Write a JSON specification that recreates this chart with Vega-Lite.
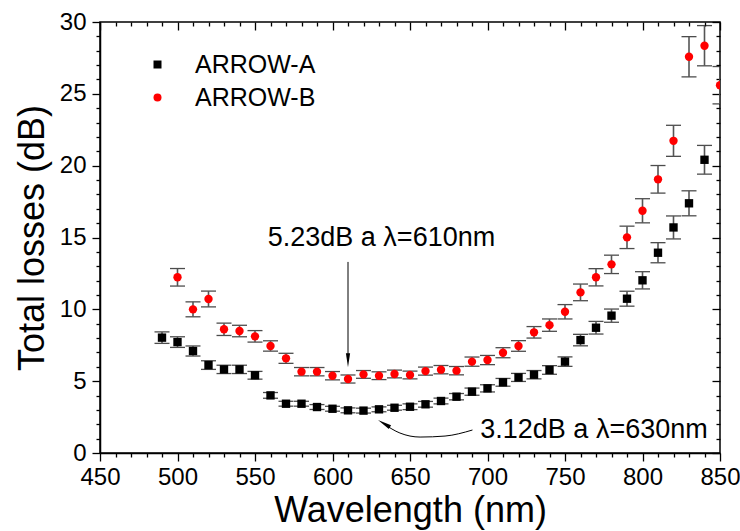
{
  "$schema": "https://vega.github.io/schema/vega-lite/v6.json",
  "width": 620,
  "height": 431,
  "autosize": "none",
  "padding": {"left": 100, "top": 22, "right": 20, "bottom": 78},
  "background": "white",
  "config": {
    "font": "Liberation Sans",
    "view": {"stroke": "black", "strokeWidth": 1.5},
    "axis": {"domainColor": "black", "tickColor": "black", "labelColor": "black", "titleColor": "black", "grid": false, "domainWidth": 1.5, "tickWidth": 1.3, "labelFont": "Liberation Sans", "titleFont": "Liberation Sans", "titleFontWeight": "normal"}
  },
  "datasets": {
    "losses": [
      {"series": "ARROW-A", "wl": 490, "loss": 8.03, "err": 0.4},
      {"series": "ARROW-A", "wl": 500, "loss": 7.72, "err": 0.37},
      {"series": "ARROW-A", "wl": 510, "loss": 7.1, "err": 0.35},
      {"series": "ARROW-A", "wl": 520, "loss": 6.12, "err": 0.3},
      {"series": "ARROW-A", "wl": 530, "loss": 5.82, "err": 0.29},
      {"series": "ARROW-A", "wl": 540, "loss": 5.82, "err": 0.29},
      {"series": "ARROW-A", "wl": 550, "loss": 5.41, "err": 0.27},
      {"series": "ARROW-A", "wl": 560, "loss": 4.01, "err": 0.2},
      {"series": "ARROW-A", "wl": 570, "loss": 3.43, "err": 0.17},
      {"series": "ARROW-A", "wl": 580, "loss": 3.43, "err": 0.17},
      {"series": "ARROW-A", "wl": 590, "loss": 3.2, "err": 0.17},
      {"series": "ARROW-A", "wl": 600, "loss": 3.08, "err": 0.17},
      {"series": "ARROW-A", "wl": 610, "loss": 2.97, "err": 0.17},
      {"series": "ARROW-A", "wl": 620, "loss": 2.95, "err": 0.17},
      {"series": "ARROW-A", "wl": 630, "loss": 3.04, "err": 0.17},
      {"series": "ARROW-A", "wl": 640, "loss": 3.15, "err": 0.17},
      {"series": "ARROW-A", "wl": 650, "loss": 3.22, "err": 0.2},
      {"series": "ARROW-A", "wl": 660, "loss": 3.39, "err": 0.2},
      {"series": "ARROW-A", "wl": 670, "loss": 3.62, "err": 0.2},
      {"series": "ARROW-A", "wl": 680, "loss": 3.92, "err": 0.22},
      {"series": "ARROW-A", "wl": 690, "loss": 4.27, "err": 0.25},
      {"series": "ARROW-A", "wl": 700, "loss": 4.5, "err": 0.25},
      {"series": "ARROW-A", "wl": 710, "loss": 4.92, "err": 0.27},
      {"series": "ARROW-A", "wl": 720, "loss": 5.26, "err": 0.28},
      {"series": "ARROW-A", "wl": 730, "loss": 5.45, "err": 0.29},
      {"series": "ARROW-A", "wl": 740, "loss": 5.78, "err": 0.3},
      {"series": "ARROW-A", "wl": 750, "loss": 6.36, "err": 0.33},
      {"series": "ARROW-A", "wl": 760, "loss": 7.86, "err": 0.4},
      {"series": "ARROW-A", "wl": 770, "loss": 8.72, "err": 0.44},
      {"series": "ARROW-A", "wl": 780, "loss": 9.56, "err": 0.46},
      {"series": "ARROW-A", "wl": 790, "loss": 10.74, "err": 0.52},
      {"series": "ARROW-A", "wl": 800, "loss": 12.02, "err": 0.6},
      {"series": "ARROW-A", "wl": 810, "loss": 13.94, "err": 0.7},
      {"series": "ARROW-A", "wl": 820, "loss": 15.7, "err": 0.8},
      {"series": "ARROW-A", "wl": 830, "loss": 17.38, "err": 0.87},
      {"series": "ARROW-A", "wl": 840, "loss": 20.41, "err": 1.0},
      {"series": "ARROW-B", "wl": 500, "loss": 12.23, "err": 0.61},
      {"series": "ARROW-B", "wl": 510, "loss": 10.0, "err": 0.52},
      {"series": "ARROW-B", "wl": 520, "loss": 10.72, "err": 0.55},
      {"series": "ARROW-B", "wl": 530, "loss": 8.61, "err": 0.43},
      {"series": "ARROW-B", "wl": 540, "loss": 8.49, "err": 0.4},
      {"series": "ARROW-B", "wl": 550, "loss": 8.12, "err": 0.4},
      {"series": "ARROW-B", "wl": 560, "loss": 7.45, "err": 0.36},
      {"series": "ARROW-B", "wl": 570, "loss": 6.59, "err": 0.35},
      {"series": "ARROW-B", "wl": 580, "loss": 5.66, "err": 0.29},
      {"series": "ARROW-B", "wl": 590, "loss": 5.66, "err": 0.29},
      {"series": "ARROW-B", "wl": 600, "loss": 5.38, "err": 0.29},
      {"series": "ARROW-B", "wl": 610, "loss": 5.15, "err": 0.28},
      {"series": "ARROW-B", "wl": 620, "loss": 5.47, "err": 0.27},
      {"series": "ARROW-B", "wl": 630, "loss": 5.38, "err": 0.27},
      {"series": "ARROW-B", "wl": 640, "loss": 5.5, "err": 0.27},
      {"series": "ARROW-B", "wl": 650, "loss": 5.43, "err": 0.27},
      {"series": "ARROW-B", "wl": 660, "loss": 5.7, "err": 0.28},
      {"series": "ARROW-B", "wl": 670, "loss": 5.8, "err": 0.29},
      {"series": "ARROW-B", "wl": 680, "loss": 5.73, "err": 0.29},
      {"series": "ARROW-B", "wl": 690, "loss": 6.36, "err": 0.32},
      {"series": "ARROW-B", "wl": 700, "loss": 6.47, "err": 0.32},
      {"series": "ARROW-B", "wl": 710, "loss": 6.98, "err": 0.35},
      {"series": "ARROW-B", "wl": 720, "loss": 7.45, "err": 0.37},
      {"series": "ARROW-B", "wl": 730, "loss": 8.4, "err": 0.4},
      {"series": "ARROW-B", "wl": 740, "loss": 8.9, "err": 0.43},
      {"series": "ARROW-B", "wl": 750, "loss": 9.83, "err": 0.5},
      {"series": "ARROW-B", "wl": 760, "loss": 11.18, "err": 0.58},
      {"series": "ARROW-B", "wl": 770, "loss": 12.23, "err": 0.6},
      {"series": "ARROW-B", "wl": 780, "loss": 13.13, "err": 0.64},
      {"series": "ARROW-B", "wl": 790, "loss": 15.01, "err": 0.78},
      {"series": "ARROW-B", "wl": 800, "loss": 16.86, "err": 0.84},
      {"series": "ARROW-B", "wl": 810, "loss": 19.05, "err": 0.96},
      {"series": "ARROW-B", "wl": 820, "loss": 21.73, "err": 1.08},
      {"series": "ARROW-B", "wl": 830, "loss": 27.58, "err": 1.4},
      {"series": "ARROW-B", "wl": 840, "loss": 28.35, "err": 1.4},
      {"series": "ARROW-B", "wl": 850, "loss": 25.6, "err": 1.3}
    ],
    "notes": [
      {"wl": 631.6, "loss": 15.0, "label": "5.23dB a λ=610nm"},
      {"wl": 768.7, "loss": 1.6, "label": "3.12dB a λ=630nm"}
    ],
    "curve": [
      {"wl": 633.2, "loss": 2.02},
      {"wl": 643.5, "loss": 1.39},
      {"wl": 656.5, "loss": 1.11},
      {"wl": 672.6, "loss": 1.18},
      {"wl": 690.3, "loss": 1.6}
    ]
  },
  "resolve": {"axis": {"x": "independent", "y": "independent"}},
  "layer": [
    {
      "data": {"name": "losses"},
      "mark": {"type": "errorbar", "clip": true, "color": "black", "ticks": {"size": 15, "color": "black", "thickness": 1.3}, "rule": {"color": "#555555", "strokeWidth": 1.6}},
      "encoding": {
        "x": {"field": "wl", "type": "quantitative", "scale": {"domain": [450, 850]}, "axis": null},
        "y": {"field": "loss", "type": "quantitative", "scale": {"domain": [0, 30]}, "axis": null},
        "yError": {"field": "err"}
      }
    },
    {
      "data": {"name": "losses"},
      "mark": {"type": "point", "filled": true, "opacity": 1, "size": 70, "clip": true},
      "encoding": {
        "x": {"field": "wl", "type": "quantitative", "scale": {"domain": [450, 850]},
          "axis": {"orient": "bottom", "title": "Wavelength (nm)", "titleFontSize": 36, "titlePadding": 4, "labelFontSize": 24, "labelPadding": 4,
            "values": [450,460,470,480,490,500,510,520,530,540,550,560,570,580,590,600,610,620,630,640,650,660,670,680,690,700,710,720,730,740,750,760,770,780,790,800,810,820,830,840,850],
            "labelExpr": "datum.value % 50 === 0 ? datum.label : ''",
            "tickSize": {"condition": {"test": "datum.value % 50 === 0", "value": 8}, "value": 4},
            "labelFlush": false, "labelOverlap": false}},
        "y": {"field": "loss", "type": "quantitative", "scale": {"domain": [0, 30]},
          "axis": {"orient": "left", "title": "Total losses (dB)", "titleFontSize": 36, "titlePadding": 8, "labelFontSize": 24, "labelPadding": 6,
            "values": [0,1,2,3,4,5,6,7,8,9,10,11,12,13,14,15,16,17,18,19,20,21,22,23,24,25,26,27,28,29,30],
            "labelExpr": "datum.value % 5 === 0 ? datum.label : ''",
            "tickSize": {"condition": {"test": "datum.value % 5 === 0", "value": 8}, "value": 4},
            "labelFlush": false, "labelOverlap": false}},
        "color": {"field": "series", "type": "nominal", "scale": {"domain": ["ARROW-A", "ARROW-B"], "range": ["black", "#ff0000"]},
          "legend": {"orient": "none", "legendX": 45, "legendY": 30, "title": null, "labelFontSize": 25, "labelFont": "Liberation Sans", "symbolSize": 64, "labelOffset": 25, "rowPadding": 7, "padding": 0}},
        "shape": {"field": "series", "type": "nominal", "scale": {"domain": ["ARROW-A", "ARROW-B"], "range": ["square", "circle"]}, "legend": null}
      }
    },
    {
      "data": {"name": "notes"},
      "mark": {"type": "text", "fontSize": 27, "font": "Liberation Sans", "color": "black", "align": "center", "baseline": "middle"},
      "encoding": {
        "x": {"field": "wl", "type": "quantitative", "scale": {"domain": [450, 850]},
          "axis": {"orient": "top", "title": null, "labels": false, "domain": false,
            "values": [450,460,470,480,490,500,510,520,530,540,550,560,570,580,590,600,610,620,630,640,650,660,670,680,690,700,710,720,730,740,750,760,770,780,790,800,810,820,830,840,850],
            "tickSize": {"condition": {"test": "datum.value % 50 === 0", "value": -8}, "value": -4}}},
        "y": {"field": "loss", "type": "quantitative", "scale": {"domain": [0, 30]},
          "axis": {"orient": "right", "title": null, "labels": false, "domain": false,
            "values": [0,1,2,3,4,5,6,7,8,9,10,11,12,13,14,15,16,17,18,19,20,21,22,23,24,25,26,27,28,29,30],
            "tickSize": {"condition": {"test": "datum.value % 5 === 0", "value": -8}, "value": -4}}},
        "text": {"field": "label"}
      }
    },
    {
      "data": {"values": [{"wl": 610, "top": 13.3, "bottom": 6.4}]},
      "mark": {"type": "rule", "color": "black", "strokeWidth": 1},
      "encoding": {
        "x": {"field": "wl", "type": "quantitative", "scale": {"domain": [450, 850]}, "axis": null},
        "y": {"field": "top", "type": "quantitative", "scale": {"domain": [0, 30]}, "axis": null},
        "y2": {"field": "bottom"}
      }
    },
    {
      "data": {"values": [{"wl": 610, "loss": 6.45}]},
      "mark": {"type": "point", "filled": true, "color": "black", "opacity": 1, "size": 196, "shape": "M-0.3,-1L0.3,-1L0,1Z"},
      "encoding": {
        "x": {"field": "wl", "type": "quantitative", "scale": {"domain": [450, 850]}, "axis": null},
        "y": {"field": "loss", "type": "quantitative", "scale": {"domain": [0, 30]}, "axis": null}
      }
    },
    {
      "data": {"name": "curve"},
      "mark": {"type": "line", "color": "black", "strokeWidth": 1, "interpolate": "monotone"},
      "encoding": {
        "x": {"field": "wl", "type": "quantitative", "scale": {"domain": [450, 850]}, "axis": null},
        "y": {"field": "loss", "type": "quantitative", "scale": {"domain": [0, 30]}, "axis": null}
      }
    },
    {
      "data": {"values": [{"wl": 633.2, "loss": 2.05}]},
      "mark": {"type": "point", "filled": true, "color": "black", "opacity": 1, "size": 196, "angle": 121, "shape": "M-0.3,-1L0.3,-1L0,1Z"},
      "encoding": {
        "x": {"field": "wl", "type": "quantitative", "scale": {"domain": [450, 850]}, "axis": null},
        "y": {"field": "loss", "type": "quantitative", "scale": {"domain": [0, 30]}, "axis": null}
      }
    }
  ]
}
